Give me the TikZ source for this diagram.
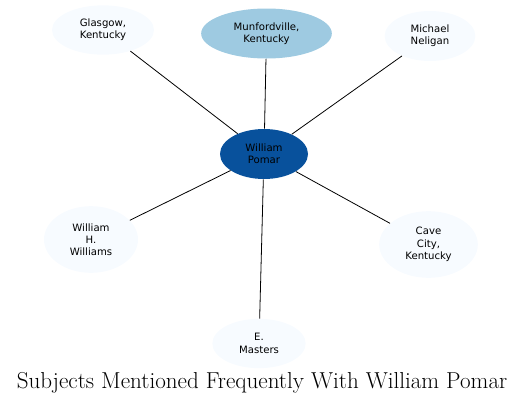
\documentclass[tikz,border=0pt]{standalone}
\usepackage{fontspec}
\newfontfamily\nodefont{DejaVu Sans}
\usetikzlibrary{shapes.geometric}
\definecolor{pale}{HTML}{F7FBFF}
\definecolor{midblue}{HTML}{9ECAE1}
\definecolor{deepblue}{HTML}{08519C}
\tikzset{
	subject/.style={ellipse, fill=pale, inner sep=0pt, align=center, font=\nodefont\fontsize{7.6}{9.2}\selectfont},
	link/.style={line width=0.6pt, color=black}
}

\begin{document}
\begin{tikzpicture}[x=0.75pt, y=-0.75pt]
			%%%%% START %%%%%
			\useasboundingbox (0, 0) rectangle (529, 404);
			
			\node[subject, fill=deepblue, minimum width=66pt, minimum height=37.5pt] (pomar) at (264, 154) {William\\Pomar};
			
			\node[subject, minimum width=76.5pt, minimum height=37pt] (glasgow) at (103, 30) {Glasgow,\\Kentucky};
			\node[subject, fill=midblue, minimum width=98pt, minimum height=37.5pt] (munford) at (266.5, 33.5) {Munfordville,\\Kentucky};
			\node[subject, minimum width=68pt, minimum height=37.5pt] (neligan) at (430, 36) {Michael\\Neligan};
			
			\node[subject, minimum width=70.5pt, minimum height=50pt] (williams) at (91, 239.5) {William\\H.\\Williams};
			\node[subject, minimum width=74pt, minimum height=50pt] (cave) at (428.5, 244.5) {Cave\\City,\\Kentucky};
			\node[subject, minimum width=70pt, minimum height=37pt] (masters) at (259, 343.5) {E.\\Masters};
			
			\draw[link] (pomar) -- (glasgow);
			\draw[link] (pomar) -- (munford);
			\draw[link] (pomar) -- (neligan);
			\draw[link] (pomar) -- (williams);
			\draw[link] (pomar) -- (cave);
			\draw[link] (pomar) -- (masters);
			
			\node[font=\fontsize{17.3}{20}\selectfont] (title) at (262, 383) {Subjects Mentioned Frequently With William Pomar};
			%%%%% END %%%%%
\end{tikzpicture}
\end{document}
